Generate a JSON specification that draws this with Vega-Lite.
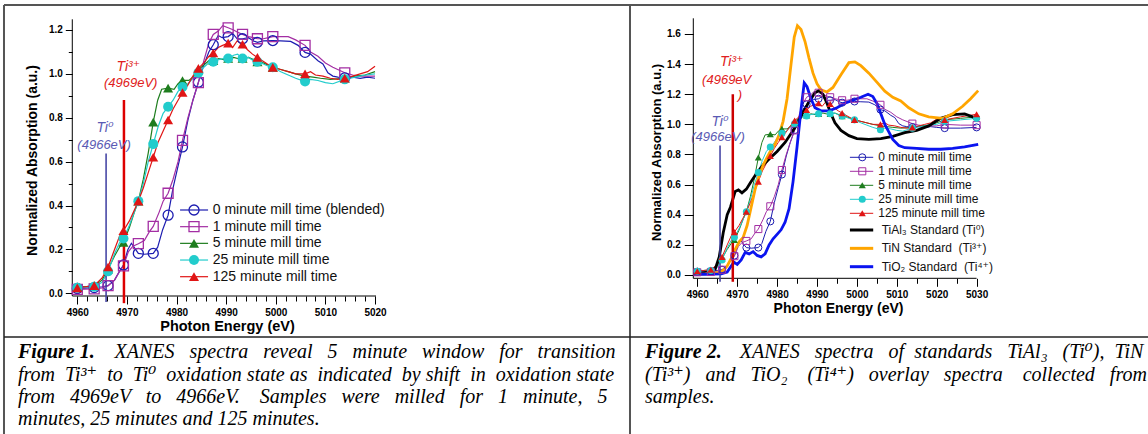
{
"$schema": "https://vega.github.io/schema/vega-lite/v6.json",
"width": 1148, "height": 434, "autosize": "none", "padding": 0, "background": "white",
"config": {"view": {"stroke": null}, "axis": {"domain": false, "grid": false, "tickColor": "black", "tickWidth": 1, "labelFont": "Liberation Sans", "labelFontWeight": "bold", "labelColor": "black", "titleFont": "Liberation Sans", "titleFontWeight": "bold", "titleColor": "black", "labelFlush": false, "labelOverlap": false}},
"datasets": {
"samples": [
{"s":"0 min","E":4959.6,"A":0.022,"m":0},{"s":"0 min","E":4960,"A":0.022,"m":1},{"s":"0 min","E":4961.5,"A":0.024,"m":0},{"s":"0 min","E":4963.4,"A":0.026,"m":1},{"s":"0 min","E":4965,"A":0.03,"m":0},{"s":"0 min","E":4966.2,"A":0.035,"m":1},{"s":"0 min","E":4967.5,"A":0.06,"m":0},{"s":"0 min","E":4968.5,"A":0.1,"m":0},{"s":"0 min","E":4969.3,"A":0.129,"m":1},{"s":"0 min","E":4970.2,"A":0.2,"m":0},{"s":"0 min","E":4970.9,"A":0.228,"m":0},{"s":"0 min","E":4971.6,"A":0.205,"m":0},{"s":"0 min","E":4972.3,"A":0.182,"m":1},{"s":"0 min","E":4973.5,"A":0.178,"m":0},{"s":"0 min","E":4975.3,"A":0.182,"m":1},{"s":"0 min","E":4976.2,"A":0.21,"m":0},{"s":"0 min","E":4977.2,"A":0.29,"m":0},{"s":"0 min","E":4978.3,"A":0.356,"m":1},{"s":"0 min","E":4979.3,"A":0.48,"m":0},{"s":"0 min","E":4980.3,"A":0.58,"m":0},{"s":"0 min","E":4981.2,"A":0.667,"m":1},{"s":"0 min","E":4982.3,"A":0.79,"m":0},{"s":"0 min","E":4983.3,"A":0.88,"m":0},{"s":"0 min","E":4984.4,"A":0.962,"m":1},{"s":"0 min","E":4985.5,"A":1.04,"m":0},{"s":"0 min","E":4986.5,"A":1.1,"m":0},{"s":"0 min","E":4987.4,"A":1.133,"m":1},{"s":"0 min","E":4988.4,"A":1.175,"m":0},{"s":"0 min","E":4989.2,"A":1.165,"m":0},{"s":"0 min","E":4990.4,"A":1.17,"m":1},{"s":"0 min","E":4991.3,"A":1.185,"m":0},{"s":"0 min","E":4992.2,"A":1.16,"m":0},{"s":"0 min","E":4993.3,"A":1.16,"m":1},{"s":"0 min","E":4994.5,"A":1.165,"m":0},{"s":"0 min","E":4995.5,"A":1.15,"m":0},{"s":"0 min","E":4996.3,"A":1.144,"m":1},{"s":"0 min","E":4997.5,"A":1.15,"m":0},{"s":"0 min","E":4999.4,"A":1.152,"m":1},{"s":"0 min","E":5001,"A":1.15,"m":0},{"s":"0 min","E":5003,"A":1.148,"m":0},{"s":"0 min","E":5004.5,"A":1.13,"m":0},{"s":"0 min","E":5005.9,"A":1.098,"m":1},{"s":"0 min","E":5007,"A":1.09,"m":0},{"s":"0 min","E":5008.5,"A":1.06,"m":0},{"s":"0 min","E":5009.5,"A":1.045,"m":0},{"s":"0 min","E":5010.5,"A":1.005,"m":0},{"s":"0 min","E":5011.5,"A":0.99,"m":0},{"s":"0 min","E":5012.5,"A":0.985,"m":0},{"s":"0 min","E":5013.9,"A":0.982,"m":1},{"s":"0 min","E":5015.5,"A":0.985,"m":0},{"s":"0 min","E":5017,"A":0.98,"m":0},{"s":"0 min","E":5018.5,"A":0.985,"m":0},{"s":"0 min","E":5020,"A":0.98,"m":0},{"s":"0 min","E":5022,"A":0.975,"m":1},{"s":"0 min","E":5026,"A":0.975,"m":0},{"s":"0 min","E":5030,"A":0.98,"m":1},
{"s":"1 min","E":4959.6,"A":0.018,"m":0},{"s":"1 min","E":4960,"A":0.018,"m":1},{"s":"1 min","E":4963.4,"A":0.02,"m":1},{"s":"1 min","E":4965,"A":0.025,"m":0},{"s":"1 min","E":4966.2,"A":0.035,"m":1},{"s":"1 min","E":4967.5,"A":0.06,"m":0},{"s":"1 min","E":4968.5,"A":0.1,"m":0},{"s":"1 min","E":4969.3,"A":0.125,"m":1},{"s":"1 min","E":4970.3,"A":0.19,"m":0},{"s":"1 min","E":4971.2,"A":0.215,"m":0},{"s":"1 min","E":4972.3,"A":0.226,"m":1},{"s":"1 min","E":4973.5,"A":0.24,"m":0},{"s":"1 min","E":4974.5,"A":0.28,"m":0},{"s":"1 min","E":4975.3,"A":0.305,"m":1},{"s":"1 min","E":4976.5,"A":0.37,"m":0},{"s":"1 min","E":4977.3,"A":0.42,"m":0},{"s":"1 min","E":4978.3,"A":0.456,"m":1},{"s":"1 min","E":4979.3,"A":0.52,"m":0},{"s":"1 min","E":4980.3,"A":0.6,"m":0},{"s":"1 min","E":4981.2,"A":0.697,"m":1},{"s":"1 min","E":4982.3,"A":0.8,"m":0},{"s":"1 min","E":4983.3,"A":0.88,"m":0},{"s":"1 min","E":4984.4,"A":0.96,"m":1},{"s":"1 min","E":4985.5,"A":1.06,"m":0},{"s":"1 min","E":4986.5,"A":1.14,"m":0},{"s":"1 min","E":4987.4,"A":1.18,"m":1},{"s":"1 min","E":4988.4,"A":1.195,"m":0},{"s":"1 min","E":4989.3,"A":1.22,"m":0},{"s":"1 min","E":4990.4,"A":1.21,"m":1},{"s":"1 min","E":4991.5,"A":1.2,"m":0},{"s":"1 min","E":4992.3,"A":1.19,"m":0},{"s":"1 min","E":4993.3,"A":1.18,"m":1},{"s":"1 min","E":4994.5,"A":1.17,"m":0},{"s":"1 min","E":4995.5,"A":1.165,"m":0},{"s":"1 min","E":4996.3,"A":1.16,"m":1},{"s":"1 min","E":4997.5,"A":1.16,"m":0},{"s":"1 min","E":4998.5,"A":1.165,"m":0},{"s":"1 min","E":4999.4,"A":1.17,"m":1},{"s":"1 min","E":5001,"A":1.17,"m":0},{"s":"1 min","E":5002.5,"A":1.17,"m":0},{"s":"1 min","E":5004,"A":1.155,"m":0},{"s":"1 min","E":5005.9,"A":1.13,"m":1},{"s":"1 min","E":5007,"A":1.1,"m":0},{"s":"1 min","E":5008.5,"A":1.08,"m":0},{"s":"1 min","E":5010,"A":1.05,"m":0},{"s":"1 min","E":5011.5,"A":1.03,"m":0},{"s":"1 min","E":5013.9,"A":1.005,"m":1},{"s":"1 min","E":5015.5,"A":0.995,"m":0},{"s":"1 min","E":5017,"A":0.99,"m":0},{"s":"1 min","E":5020,"A":0.99,"m":0},{"s":"1 min","E":5022,"A":1.0,"m":1},{"s":"1 min","E":5026,"A":0.995,"m":0},{"s":"1 min","E":5030,"A":0.995,"m":1},
{"s":"5 min","E":4959.6,"A":0.03,"m":0},{"s":"5 min","E":4960,"A":0.03,"m":1},{"s":"5 min","E":4961.5,"A":0.03,"m":0},{"s":"5 min","E":4963.4,"A":0.035,"m":1},{"s":"5 min","E":4965,"A":0.06,"m":0},{"s":"5 min","E":4966.2,"A":0.11,"m":1},{"s":"5 min","E":4967.5,"A":0.17,"m":0},{"s":"5 min","E":4968.5,"A":0.21,"m":0},{"s":"5 min","E":4969.3,"A":0.232,"m":1},{"s":"5 min","E":4970.5,"A":0.3,"m":0},{"s":"5 min","E":4971.5,"A":0.37,"m":0},{"s":"5 min","E":4972.3,"A":0.42,"m":1},{"s":"5 min","E":4973.3,"A":0.52,"m":0},{"s":"5 min","E":4974.3,"A":0.64,"m":0},{"s":"5 min","E":4975.3,"A":0.78,"m":1},{"s":"5 min","E":4976.2,"A":0.88,"m":0},{"s":"5 min","E":4977,"A":0.93,"m":0},{"s":"5 min","E":4978.3,"A":0.935,"m":1},{"s":"5 min","E":4979.5,"A":0.93,"m":0},{"s":"5 min","E":4980.3,"A":0.955,"m":0},{"s":"5 min","E":4981.2,"A":0.97,"m":1},{"s":"5 min","E":4982.5,"A":0.97,"m":0},{"s":"5 min","E":4983.5,"A":0.99,"m":0},{"s":"5 min","E":4984.4,"A":1.02,"m":1},{"s":"5 min","E":4985.5,"A":1.04,"m":0},{"s":"5 min","E":4986.5,"A":1.06,"m":0},{"s":"5 min","E":4987.4,"A":1.06,"m":1},{"s":"5 min","E":4988.5,"A":1.07,"m":0},{"s":"5 min","E":4989.5,"A":1.065,"m":0},{"s":"5 min","E":4990.4,"A":1.07,"m":1},{"s":"5 min","E":4991.5,"A":1.075,"m":0},{"s":"5 min","E":4992.3,"A":1.07,"m":0},{"s":"5 min","E":4993.3,"A":1.07,"m":1},{"s":"5 min","E":4994.5,"A":1.075,"m":0},{"s":"5 min","E":4995.5,"A":1.065,"m":0},{"s":"5 min","E":4996.3,"A":1.055,"m":1},{"s":"5 min","E":4997.5,"A":1.05,"m":0},{"s":"5 min","E":4998.5,"A":1.04,"m":0},{"s":"5 min","E":4999.4,"A":1.03,"m":1},{"s":"5 min","E":5001,"A":1.02,"m":0},{"s":"5 min","E":5002.5,"A":1.01,"m":0},{"s":"5 min","E":5004,"A":1.0,"m":0},{"s":"5 min","E":5005.9,"A":0.99,"m":1},{"s":"5 min","E":5007.5,"A":0.985,"m":0},{"s":"5 min","E":5009,"A":0.98,"m":0},{"s":"5 min","E":5011,"A":0.975,"m":0},{"s":"5 min","E":5013.9,"A":0.98,"m":1},{"s":"5 min","E":5016,"A":0.99,"m":0},{"s":"5 min","E":5018,"A":0.995,"m":0},{"s":"5 min","E":5020,"A":1.01,"m":0},{"s":"5 min","E":5022,"A":1.03,"m":1},{"s":"5 min","E":5026,"A":1.04,"m":0},{"s":"5 min","E":5030,"A":1.05,"m":1},
{"s":"25 min","E":4959.6,"A":0.025,"m":0},{"s":"25 min","E":4960,"A":0.025,"m":1},{"s":"25 min","E":4963.4,"A":0.03,"m":1},{"s":"25 min","E":4965,"A":0.05,"m":0},{"s":"25 min","E":4966.2,"A":0.1,"m":1},{"s":"25 min","E":4967.5,"A":0.18,"m":0},{"s":"25 min","E":4968.5,"A":0.23,"m":0},{"s":"25 min","E":4969.3,"A":0.25,"m":1},{"s":"25 min","E":4970.5,"A":0.31,"m":0},{"s":"25 min","E":4971.5,"A":0.37,"m":0},{"s":"25 min","E":4972.3,"A":0.42,"m":1},{"s":"25 min","E":4973.3,"A":0.5,"m":0},{"s":"25 min","E":4974.3,"A":0.6,"m":0},{"s":"25 min","E":4975.3,"A":0.68,"m":1},{"s":"25 min","E":4976.3,"A":0.76,"m":0},{"s":"25 min","E":4977.3,"A":0.82,"m":0},{"s":"25 min","E":4978.3,"A":0.85,"m":1},{"s":"25 min","E":4979.3,"A":0.88,"m":0},{"s":"25 min","E":4980.3,"A":0.92,"m":0},{"s":"25 min","E":4981.2,"A":0.94,"m":1},{"s":"25 min","E":4982.3,"A":0.955,"m":0},{"s":"25 min","E":4983.3,"A":0.98,"m":0},{"s":"25 min","E":4984.4,"A":1.005,"m":1},{"s":"25 min","E":4985.5,"A":1.03,"m":0},{"s":"25 min","E":4986.5,"A":1.05,"m":0},{"s":"25 min","E":4987.4,"A":1.055,"m":1},{"s":"25 min","E":4988.5,"A":1.065,"m":0},{"s":"25 min","E":4989.5,"A":1.07,"m":0},{"s":"25 min","E":4990.4,"A":1.07,"m":1},{"s":"25 min","E":4991.5,"A":1.085,"m":0},{"s":"25 min","E":4992.3,"A":1.09,"m":0},{"s":"25 min","E":4993.3,"A":1.07,"m":1},{"s":"25 min","E":4994.5,"A":1.075,"m":0},{"s":"25 min","E":4995.5,"A":1.06,"m":0},{"s":"25 min","E":4996.3,"A":1.055,"m":1},{"s":"25 min","E":4997.5,"A":1.045,"m":0},{"s":"25 min","E":4998.5,"A":1.035,"m":0},{"s":"25 min","E":4999.4,"A":1.03,"m":1},{"s":"25 min","E":5001,"A":1.01,"m":0},{"s":"25 min","E":5002.5,"A":0.995,"m":0},{"s":"25 min","E":5004,"A":0.98,"m":0},{"s":"25 min","E":5005.9,"A":0.965,"m":1},{"s":"25 min","E":5007,"A":0.975,"m":0},{"s":"25 min","E":5008.5,"A":0.97,"m":0},{"s":"25 min","E":5010,"A":0.96,"m":0},{"s":"25 min","E":5011.5,"A":0.955,"m":0},{"s":"25 min","E":5013.9,"A":0.975,"m":1},{"s":"25 min","E":5016,"A":0.985,"m":0},{"s":"25 min","E":5018,"A":0.995,"m":0},{"s":"25 min","E":5020,"A":1.0,"m":0},{"s":"25 min","E":5022,"A":1.02,"m":1},{"s":"25 min","E":5026,"A":1.03,"m":0},{"s":"25 min","E":5030,"A":1.04,"m":1},
{"s":"125 min","E":4959.6,"A":0.025,"m":0},{"s":"125 min","E":4960,"A":0.025,"m":1},{"s":"125 min","E":4963.4,"A":0.035,"m":1},{"s":"125 min","E":4965,"A":0.07,"m":0},{"s":"125 min","E":4966.2,"A":0.12,"m":1},{"s":"125 min","E":4967.5,"A":0.2,"m":0},{"s":"125 min","E":4968.5,"A":0.26,"m":0},{"s":"125 min","E":4969.3,"A":0.285,"m":1},{"s":"125 min","E":4970.5,"A":0.33,"m":0},{"s":"125 min","E":4971.5,"A":0.38,"m":0},{"s":"125 min","E":4972.3,"A":0.42,"m":1},{"s":"125 min","E":4973.3,"A":0.48,"m":0},{"s":"125 min","E":4974.3,"A":0.55,"m":0},{"s":"125 min","E":4975.3,"A":0.62,"m":1},{"s":"125 min","E":4976.3,"A":0.69,"m":0},{"s":"125 min","E":4977.3,"A":0.74,"m":0},{"s":"125 min","E":4978.3,"A":0.79,"m":1},{"s":"125 min","E":4979.3,"A":0.84,"m":0},{"s":"125 min","E":4980.3,"A":0.88,"m":0},{"s":"125 min","E":4981.2,"A":0.915,"m":1},{"s":"125 min","E":4982.3,"A":0.95,"m":0},{"s":"125 min","E":4983.3,"A":0.99,"m":0},{"s":"125 min","E":4984.4,"A":1.025,"m":1},{"s":"125 min","E":4985.5,"A":1.05,"m":0},{"s":"125 min","E":4986.5,"A":1.08,"m":0},{"s":"125 min","E":4987.4,"A":1.095,"m":1},{"s":"125 min","E":4988.4,"A":1.12,"m":0},{"s":"125 min","E":4989.3,"A":1.13,"m":0},{"s":"125 min","E":4990.4,"A":1.14,"m":1},{"s":"125 min","E":4991.3,"A":1.12,"m":0},{"s":"125 min","E":4992.2,"A":1.15,"m":0},{"s":"125 min","E":4993.3,"A":1.135,"m":1},{"s":"125 min","E":4994.3,"A":1.11,"m":0},{"s":"125 min","E":4995.3,"A":1.09,"m":0},{"s":"125 min","E":4996.3,"A":1.075,"m":1},{"s":"125 min","E":4997.3,"A":1.06,"m":0},{"s":"125 min","E":4998.3,"A":1.045,"m":0},{"s":"125 min","E":4999.4,"A":1.03,"m":1},{"s":"125 min","E":5001,"A":1.02,"m":0},{"s":"125 min","E":5002.5,"A":1.01,"m":0},{"s":"125 min","E":5004,"A":1.0,"m":0},{"s":"125 min","E":5005.9,"A":1.0,"m":1},{"s":"125 min","E":5007,"A":1.01,"m":0},{"s":"125 min","E":5008,"A":0.995,"m":0},{"s":"125 min","E":5009.5,"A":0.99,"m":0},{"s":"125 min","E":5011,"A":0.98,"m":0},{"s":"125 min","E":5012.5,"A":0.975,"m":0},{"s":"125 min","E":5013.9,"A":0.98,"m":1},{"s":"125 min","E":5015.5,"A":0.99,"m":0},{"s":"125 min","E":5017,"A":1.0,"m":0},{"s":"125 min","E":5018.5,"A":1.01,"m":0},{"s":"125 min","E":5020,"A":1.035,"m":0},{"s":"125 min","E":5022,"A":1.03,"m":1},{"s":"125 min","E":5026,"A":1.05,"m":0},{"s":"125 min","E":5030,"A":1.067,"m":1}
],
"stds": [
{"s":"TiAl3","E":4959,"A":0.01},{"s":"TiAl3","E":4961,"A":0.012},{"s":"TiAl3","E":4963,"A":0.02},{"s":"TiAl3","E":4964.5,"A":0.04},{"s":"TiAl3","E":4965.5,"A":0.12},{"s":"TiAl3","E":4966.5,"A":0.28},{"s":"TiAl3","E":4967.5,"A":0.4},{"s":"TiAl3","E":4968.3,"A":0.45},{"s":"TiAl3","E":4969.5,"A":0.555},{"s":"TiAl3","E":4970.3,"A":0.565},{"s":"TiAl3","E":4971.2,"A":0.545},{"s":"TiAl3","E":4972.3,"A":0.57},{"s":"TiAl3","E":4973.5,"A":0.62},{"s":"TiAl3","E":4975,"A":0.68},{"s":"TiAl3","E":4976.5,"A":0.73},{"s":"TiAl3","E":4978,"A":0.77},{"s":"TiAl3","E":4980,"A":0.82},{"s":"TiAl3","E":4982,"A":0.88},{"s":"TiAl3","E":4983.5,"A":0.94},{"s":"TiAl3","E":4985,"A":1.0},{"s":"TiAl3","E":4986.5,"A":1.08},{"s":"TiAl3","E":4988,"A":1.15},{"s":"TiAl3","E":4989.5,"A":1.21},{"s":"TiAl3","E":4990.5,"A":1.225},{"s":"TiAl3","E":4991.5,"A":1.2},{"s":"TiAl3","E":4992.5,"A":1.14},{"s":"TiAl3","E":4993.5,"A":1.07},{"s":"TiAl3","E":4994.5,"A":1.01},{"s":"TiAl3","E":4996,"A":0.96},{"s":"TiAl3","E":4998,"A":0.925},{"s":"TiAl3","E":5000,"A":0.905},{"s":"TiAl3","E":5003,"A":0.9},{"s":"TiAl3","E":5006,"A":0.905},{"s":"TiAl3","E":5009,"A":0.92},{"s":"TiAl3","E":5012,"A":0.945},{"s":"TiAl3","E":5015,"A":0.96},{"s":"TiAl3","E":5018,"A":0.99},{"s":"TiAl3","E":5021,"A":1.04},{"s":"TiAl3","E":5024,"A":1.065},{"s":"TiAl3","E":5027,"A":1.07},{"s":"TiAl3","E":5030,"A":1.04},
{"s":"TiN","E":4959,"A":0.005},{"s":"TiN","E":4962,"A":0.008},{"s":"TiN","E":4965,"A":0.015},{"s":"TiN","E":4966.5,"A":0.03},{"s":"TiN","E":4967.5,"A":0.06},{"s":"TiN","E":4968.5,"A":0.11},{"s":"TiN","E":4969.5,"A":0.17},{"s":"TiN","E":4970.5,"A":0.22},{"s":"TiN","E":4971.5,"A":0.25},{"s":"TiN","E":4972.5,"A":0.33},{"s":"TiN","E":4973.5,"A":0.45},{"s":"TiN","E":4974.5,"A":0.57},{"s":"TiN","E":4975.5,"A":0.66},{"s":"TiN","E":4976.5,"A":0.73},{"s":"TiN","E":4977.5,"A":0.78},{"s":"TiN","E":4978.5,"A":0.83},{"s":"TiN","E":4979.5,"A":0.87},{"s":"TiN","E":4980.5,"A":0.93},{"s":"TiN","E":4981.5,"A":1.02},{"s":"TiN","E":4982.5,"A":1.17},{"s":"TiN","E":4983.5,"A":1.4},{"s":"TiN","E":4984.3,"A":1.58},{"s":"TiN","E":4985.1,"A":1.655},{"s":"TiN","E":4986,"A":1.63},{"s":"TiN","E":4987,"A":1.55},{"s":"TiN","E":4988,"A":1.44},{"s":"TiN","E":4989,"A":1.34},{"s":"TiN","E":4990,"A":1.27},{"s":"TiN","E":4991,"A":1.23},{"s":"TiN","E":4992.5,"A":1.215},{"s":"TiN","E":4994,"A":1.245},{"s":"TiN","E":4996,"A":1.33},{"s":"TiN","E":4998,"A":1.41},{"s":"TiN","E":4999.5,"A":1.415},{"s":"TiN","E":5001,"A":1.39},{"s":"TiN","E":5003,"A":1.34},{"s":"TiN","E":5005,"A":1.28},{"s":"TiN","E":5007,"A":1.22},{"s":"TiN","E":5009,"A":1.18},{"s":"TiN","E":5011,"A":1.155},{"s":"TiN","E":5013,"A":1.11},{"s":"TiN","E":5015.5,"A":1.07},{"s":"TiN","E":5018,"A":1.05},{"s":"TiN","E":5021.5,"A":1.04},{"s":"TiN","E":5024,"A":1.07},{"s":"TiN","E":5026.5,"A":1.12},{"s":"TiN","E":5028.5,"A":1.17},{"s":"TiN","E":5030.4,"A":1.224},
{"s":"TiO2","E":4959,"A":0.005},{"s":"TiO2","E":4962,"A":0.005},{"s":"TiO2","E":4966,"A":0.008},{"s":"TiO2","E":4967.5,"A":0.02},{"s":"TiO2","E":4968.5,"A":0.06},{"s":"TiO2","E":4969.2,"A":0.085},{"s":"TiO2","E":4970,"A":0.07},{"s":"TiO2","E":4971,"A":0.1},{"s":"TiO2","E":4972,"A":0.15},{"s":"TiO2","E":4973,"A":0.14},{"s":"TiO2","E":4974,"A":0.155},{"s":"TiO2","E":4975,"A":0.13},{"s":"TiO2","E":4976,"A":0.12},{"s":"TiO2","E":4977,"A":0.14},{"s":"TiO2","E":4978,"A":0.2},{"s":"TiO2","E":4979,"A":0.24},{"s":"TiO2","E":4980,"A":0.27},{"s":"TiO2","E":4981,"A":0.3},{"s":"TiO2","E":4982,"A":0.35},{"s":"TiO2","E":4983,"A":0.44},{"s":"TiO2","E":4984,"A":0.62},{"s":"TiO2","E":4985,"A":0.85},{"s":"TiO2","E":4986,"A":1.1},{"s":"TiO2","E":4986.8,"A":1.275},{"s":"TiO2","E":4987.5,"A":1.25},{"s":"TiO2","E":4988.5,"A":1.17},{"s":"TiO2","E":4989.5,"A":1.11},{"s":"TiO2","E":4991,"A":1.09},{"s":"TiO2","E":4993,"A":1.09},{"s":"TiO2","E":4995,"A":1.11},{"s":"TiO2","E":4997,"A":1.14},{"s":"TiO2","E":4999,"A":1.16},{"s":"TiO2","E":5001,"A":1.18},{"s":"TiO2","E":5002.8,"A":1.2},{"s":"TiO2","E":5004,"A":1.185},{"s":"TiO2","E":5005,"A":1.14},{"s":"TiO2","E":5006,"A":1.07},{"s":"TiO2","E":5007,"A":1.0},{"s":"TiO2","E":5008,"A":0.95},{"s":"TiO2","E":5009,"A":0.9},{"s":"TiO2","E":5010.5,"A":0.86},{"s":"TiO2","E":5012,"A":0.845},{"s":"TiO2","E":5015,"A":0.84},{"s":"TiO2","E":5018,"A":0.835},{"s":"TiO2","E":5021,"A":0.835},{"s":"TiO2","E":5024,"A":0.84},{"s":"TiO2","E":5027,"A":0.85},{"s":"TiO2","E":5030.4,"A":0.868}
],
"leg1": [{"s":"0 min","label":"\u00a0\u00a00 minute mill time (blended)"},{"s":"1 min","label":"\u00a0\u00a01 minute mill time"},{"s":"5 min","label":"\u00a0\u00a05 minute mill time"},{"s":"25 min","label":"\u00a025 minute mill time"},{"s":"125 min","label":"125 minute mill time"}],
"leg2": [{"s":"0 min","label":"\u00a0\u00a00 minute mill time"},{"s":"1 min","label":"\u00a0\u00a01 minute mill time"},{"s":"5 min","label":"\u00a0\u00a05 minute mill time"},{"s":"25 min","label":"\u00a025 minute mill time"},{"s":"125 min","label":"125 minute mill time"}],
"leg2s": [{"s":"TiAl3","label":"TiAl\u2083 Standard (Ti\u2070)"},{"s":"TiN","label":"TiN Standard\u00a0 (Ti\u00b3\u207a)"},{"s":"TiO2","label":"TiO\u2082 Standard\u00a0 (Ti\u2074\u207a)"}],
"one": [{}]
},
"resolve": {"scale": {"x": "independent", "y": "independent"}, "axis": {"x": "independent", "y": "independent"}},
"layer": [
{"data": {"name": "samples"}, "transform": [{"filter": "datum.E <= 5020"}], "mark": {"type": "line", "strokeWidth": 1.2},
 "encoding": {"x": {"field": "E", "type": "quantitative", "scale": {"domain": [4944.42, 5175.78], "nice": false, "zero": false}, "axis": {"orient": "bottom", "offset": -138, "values": [4960,4970,4980,4990,5000,5010,5020], "format": "d", "tickSize": 8, "labelPadding": 3, "labelFontSize": 10, "title": "Photon Energy (eV)", "titleFontSize": 14.5, "titleX": 227, "titleY": 34, "titleAlign": "center", "titleBaseline": "alphabetic", "titleAngle": 0}},
  "y": {"field": "A", "type": "quantitative", "scale": {"domain": [-0.6412, 1.3367], "nice": false, "zero": false}, "axis": {"orient": "left", "offset": -72.3, "values": [0,0.2,0.4,0.6,0.8,1,1.2], "format": ".1f", "tickSize": 7, "labelPadding": 3, "labelFontSize": 10, "title": "Normalized Absorption (a.u.)", "titleFontSize": 14, "titleX": -40.3, "titleY": 160, "titleAngle": -90, "titleAlign": "center", "titleBaseline": "middle"}},
  "color": {"field": "s", "type": "nominal", "scale": {"domain": ["0 min","1 min","5 min","25 min","125 min","TiAl3","TiN","TiO2"], "range": ["#1c1cb0","#a32ea3","#1e7d1e","#22cccc","#e01515","#000000","#ffa500","#0a14f0"]}, "legend": null}}},
{"data": {"name": "one"}, "mark": {"type": "rule", "color": "black", "strokeWidth": 1},
 "encoding": {"x": {"datum": 4959.0, "type": "quantitative", "scale": {"domain": [4944.42, 5175.78], "nice": false, "zero": false}, "axis": {"orient": "bottom", "offset": -138, "values": [4962,4964,4966,4968,4972,4974,4976,4978,4982,4984,4986,4988,4992,4994,4996,4998,5002,5004,5006,5008,5012,5014,5016,5018], "tickSize": 5, "labels": false, "title": null}}, "x2": {"datum": 5020.2},
  "y": {"datum": -0.0123, "type": "quantitative", "scale": {"domain": [-0.6412, 1.3367], "nice": false, "zero": false}, "axis": null}}},
{"data": {"name": "one"}, "mark": {"type": "rule", "color": "black", "strokeWidth": 1},
 "encoding": {"x": {"datum": 4958.99, "type": "quantitative", "scale": {"domain": [4944.42, 5175.78], "nice": false, "zero": false}, "axis": null},
  "y": {"datum": -0.0123, "type": "quantitative", "scale": {"domain": [-0.6412, 1.3367], "nice": false, "zero": false}, "axis": {"orient": "left", "offset": -72.3, "values": [0.1,0.3,0.5,0.7,0.9,1.1], "tickSize": 4, "labels": false, "title": null}}, "y2": {"datum": 1.2487}}},
{"data": {"name": "one"}, "mark": {"type": "rule", "color": "#3c3ca0", "strokeWidth": 1.5},
 "encoding": {"x": {"datum": 4965.8, "type": "quantitative", "scale": {"domain": [4944.42, 5175.78], "nice": false, "zero": false}, "axis": null},
  "y": {"datum": 0.637, "type": "quantitative", "scale": {"domain": [-0.6412, 1.3367], "nice": false, "zero": false}, "axis": null}, "y2": {"datum": -0.04}}},
{"data": {"name": "one"}, "mark": {"type": "rule", "color": "#dd0000", "strokeWidth": 2.5},
 "encoding": {"x": {"datum": 4969.4, "type": "quantitative", "scale": {"domain": [4944.42, 5175.78], "nice": false, "zero": false}, "axis": null},
  "y": {"datum": 0.881, "type": "quantitative", "scale": {"domain": [-0.6412, 1.3367], "nice": false, "zero": false}, "axis": null}, "y2": {"datum": -0.045}}},
{"data": {"name": "samples"}, "transform": [{"filter": "datum.E <= 5020 && datum.m == 1 && (datum.s == '0 min' || datum.s == '1 min')"}], "mark": {"type": "point", "filled": false, "size": 100, "strokeWidth": 1.3, "opacity": 1},
 "encoding": {"x": {"field": "E", "type": "quantitative", "scale": {"domain": [4944.42, 5175.78], "nice": false, "zero": false}, "axis": null},
  "y": {"field": "A", "type": "quantitative", "scale": {"domain": [-0.6412, 1.3367], "nice": false, "zero": false}, "axis": null},
  "color": {"field": "s", "type": "nominal", "legend": null},
  "shape": {"field": "s", "type": "nominal", "scale": {"domain": ["0 min","1 min","5 min","25 min","125 min"], "range": ["circle","square","triangle-up","circle","triangle-up"]}, "legend": null}}},
{"data": {"name": "samples"}, "transform": [{"filter": "datum.E <= 5020 && datum.m == 1 && datum.s != '0 min' && datum.s != '1 min'"}], "mark": {"type": "point", "filled": true, "size": 100, "opacity": 1},
 "encoding": {"x": {"field": "E", "type": "quantitative", "scale": {"domain": [4944.42, 5175.78], "nice": false, "zero": false}, "axis": null},
  "y": {"field": "A", "type": "quantitative", "scale": {"domain": [-0.6412, 1.3367], "nice": false, "zero": false}, "axis": null},
  "color": {"field": "s", "type": "nominal", "legend": null},
  "shape": {"field": "s", "type": "nominal", "legend": null}}},
{"data": {"name": "one"}, "mark": {"type": "text", "text": "Ti\u2070", "font": "Liberation Sans, DejaVu Sans", "fontStyle": "italic", "fontSize": 14, "color": "#5a5ab4", "align": "center", "baseline": "middle"},
 "encoding": {"x": {"datum": 4965.58, "type": "quantitative", "scale": {"domain": [4944.42, 5175.78], "nice": false, "zero": false}, "axis": null},
  "y": {"datum": 0.752, "type": "quantitative", "scale": {"domain": [-0.6412, 1.3367], "nice": false, "zero": false}, "axis": null}}},
{"data": {"name": "one"}, "mark": {"type": "text", "text": "(4966eV)", "font": "Liberation Sans", "fontStyle": "italic", "fontSize": 13, "color": "#5a5ab4", "align": "center", "baseline": "middle"},
 "encoding": {"x": {"datum": 4965.4, "type": "quantitative", "scale": {"domain": [4944.42, 5175.78], "nice": false, "zero": false}, "axis": null},
  "y": {"datum": 0.676, "type": "quantitative", "scale": {"domain": [-0.6412, 1.3367], "nice": false, "zero": false}, "axis": null}}},
{"data": {"name": "one"}, "mark": {"type": "text", "text": "Ti\u00b3\u207a", "font": "Liberation Sans, DejaVu Sans", "fontStyle": "italic", "fontSize": 14, "color": "#e02020", "align": "center", "baseline": "middle"},
 "encoding": {"x": {"datum": 4970.28, "type": "quantitative", "scale": {"domain": [4944.42, 5175.78], "nice": false, "zero": false}, "axis": null},
  "y": {"datum": 1.033, "type": "quantitative", "scale": {"domain": [-0.6412, 1.3367], "nice": false, "zero": false}, "axis": null}}},
{"data": {"name": "one"}, "mark": {"type": "text", "text": "(4969eV)", "font": "Liberation Sans", "fontStyle": "italic", "fontSize": 13, "color": "#e02020", "align": "center", "baseline": "middle"},
 "encoding": {"x": {"datum": 4970.76, "type": "quantitative", "scale": {"domain": [4944.42, 5175.78], "nice": false, "zero": false}, "axis": null},
  "y": {"datum": 0.957, "type": "quantitative", "scale": {"domain": [-0.6412, 1.3367], "nice": false, "zero": false}, "axis": null}}},
{"data": {"name": "leg1"}, "mark": {"type": "rule", "strokeWidth": 1.2},
 "encoding": {"x": {"datum": 4980.71, "type": "quantitative", "scale": {"domain": [4944.42, 5175.78], "nice": false, "zero": false}, "axis": null}, "x2": {"datum": 4986.35},
  "y": {"field": "s", "type": "nominal", "scale": {"type": "point", "domain": ["0 min","1 min","5 min","25 min","125 min"], "range": [210, 276.7], "padding": 0}, "axis": null},
  "color": {"field": "s", "type": "nominal", "legend": null}}},
{"data": {"name": "leg1"}, "transform": [{"filter": "datum.s == '0 min' || datum.s == '1 min'"}], "mark": {"type": "point", "filled": false, "size": 100, "strokeWidth": 1.3, "opacity": 1},
 "encoding": {"x": {"datum": 4983.52, "type": "quantitative", "scale": {"domain": [4944.42, 5175.78], "nice": false, "zero": false}, "axis": null},
  "y": {"field": "s", "type": "nominal", "scale": {"type": "point", "domain": ["0 min","1 min","5 min","25 min","125 min"], "range": [210, 276.7], "padding": 0}, "axis": null},
  "color": {"field": "s", "type": "nominal", "legend": null}, "shape": {"field": "s", "type": "nominal", "legend": null}}},
{"data": {"name": "leg1"}, "transform": [{"filter": "datum.s != '0 min' && datum.s != '1 min'"}], "mark": {"type": "point", "filled": true, "size": 100, "opacity": 1},
 "encoding": {"x": {"datum": 4983.52, "type": "quantitative", "scale": {"domain": [4944.42, 5175.78], "nice": false, "zero": false}, "axis": null},
  "y": {"field": "s", "type": "nominal", "scale": {"type": "point", "domain": ["0 min","1 min","5 min","25 min","125 min"], "range": [210, 276.7], "padding": 0}, "axis": null},
  "color": {"field": "s", "type": "nominal", "legend": null}, "shape": {"field": "s", "type": "nominal", "legend": null}}},
{"data": {"name": "leg1"}, "mark": {"type": "text", "font": "Liberation Sans", "fontSize": 14, "color": "#111111", "align": "left", "baseline": "middle"},
 "encoding": {"x": {"datum": 4987.29, "type": "quantitative", "scale": {"domain": [4944.42, 5175.78], "nice": false, "zero": false}, "axis": null},
  "y": {"field": "s", "type": "nominal", "scale": {"type": "point", "domain": ["0 min","1 min","5 min","25 min","125 min"], "range": [210, 276.7], "padding": 0}, "axis": null},
  "text": {"field": "label"}}},

{"data": {"name": "samples"}, "mark": {"type": "line", "strokeWidth": 1},
 "encoding": {"x": {"field": "E", "type": "quantitative", "scale": {"domain": [4785.24, 5072.96], "nice": false, "zero": false}, "axis": {"orient": "bottom", "offset": -155.7, "values": [4960,4970,4980,4990,5000,5010,5020,5030], "format": "d", "tickSize": 8, "labelPadding": 3, "labelFontSize": 10, "title": "Photon Energy (eV)", "titleFontSize": 14, "titleX": 838, "titleY": 34, "titleAlign": "center", "titleBaseline": "alphabetic", "titleAngle": 0}},
  "y": {"field": "A", "type": "quantitative", "scale": {"domain": [-1.0556, 1.8257], "nice": false, "zero": false}, "axis": {"orient": "left", "offset": -693.3, "values": [0,0.2,0.4,0.6,0.8,1,1.2,1.4,1.6], "format": ".1f", "tickSize": 9, "labelPadding": 4, "labelFontSize": 10, "title": "Normalized Absorption (a.u.)", "titleFontSize": 13, "titleX": -37.3, "titleY": 152, "titleAngle": -90, "titleAlign": "center", "titleBaseline": "middle"}},
  "color": {"field": "s", "type": "nominal", "legend": null}}},
{"data": {"name": "stds"}, "mark": {"type": "line", "strokeWidth": 2.8},
 "encoding": {"x": {"field": "E", "type": "quantitative", "scale": {"domain": [4785.24, 5072.96], "nice": false, "zero": false}, "axis": null},
  "y": {"field": "A", "type": "quantitative", "scale": {"domain": [-1.0556, 1.8257], "nice": false, "zero": false}, "axis": null},
  "color": {"field": "s", "type": "nominal", "legend": null}}},
{"data": {"name": "one"}, "mark": {"type": "rule", "color": "black", "strokeWidth": 1},
 "encoding": {"x": {"datum": 4959.0, "type": "quantitative", "scale": {"domain": [4785.24, 5072.96], "nice": false, "zero": false}, "axis": {"orient": "bottom", "offset": -155.7, "values": [4965,4975,4985,4995,5005,5015,5025], "tickSize": 5, "labels": false, "title": null}}, "x2": {"datum": 5030.0},
  "y": {"datum": -0.0219, "type": "quantitative", "scale": {"domain": [-1.0556, 1.8257], "nice": false, "zero": false}, "axis": null}}},
{"data": {"name": "one"}, "mark": {"type": "rule", "color": "black", "strokeWidth": 1},
 "encoding": {"x": {"datum": 4959.0, "type": "quantitative", "scale": {"domain": [4785.24, 5072.96], "nice": false, "zero": false}, "axis": null},
  "y": {"datum": -0.0219, "type": "quantitative", "scale": {"domain": [-1.0556, 1.8257], "nice": false, "zero": false}, "axis": null}, "y2": {"datum": 1.7042}}},
{"data": {"name": "one"}, "mark": {"type": "rule", "color": "#3c3ca0", "strokeWidth": 1.5},
 "encoding": {"x": {"datum": 4965.7, "type": "quantitative", "scale": {"domain": [4785.24, 5072.96], "nice": false, "zero": false}, "axis": null},
  "y": {"datum": 0.86, "type": "quantitative", "scale": {"domain": [-1.0556, 1.8257], "nice": false, "zero": false}, "axis": null}, "y2": {"datum": -0.045}}},
{"data": {"name": "one"}, "mark": {"type": "rule", "color": "#cc0000", "strokeWidth": 2.5},
 "encoding": {"x": {"datum": 4968.9, "type": "quantitative", "scale": {"domain": [4785.24, 5072.96], "nice": false, "zero": false}, "axis": null},
  "y": {"datum": 1.2, "type": "quantitative", "scale": {"domain": [-1.0556, 1.8257], "nice": false, "zero": false}, "axis": null}, "y2": {"datum": -0.045}}},
{"data": {"name": "samples"}, "transform": [{"filter": "datum.m == 1 && (datum.s == '0 min' || datum.s == '1 min')"}], "mark": {"type": "point", "filled": false, "size": 50, "strokeWidth": 1, "opacity": 1},
 "encoding": {"x": {"field": "E", "type": "quantitative", "scale": {"domain": [4785.24, 5072.96], "nice": false, "zero": false}, "axis": null},
  "y": {"field": "A", "type": "quantitative", "scale": {"domain": [-1.0556, 1.8257], "nice": false, "zero": false}, "axis": null},
  "color": {"field": "s", "type": "nominal", "legend": null}, "shape": {"field": "s", "type": "nominal", "legend": null}}},
{"data": {"name": "samples"}, "transform": [{"filter": "datum.m == 1 && datum.s != '0 min' && datum.s != '1 min'"}], "mark": {"type": "point", "filled": true, "size": 50, "opacity": 1},
 "encoding": {"x": {"field": "E", "type": "quantitative", "scale": {"domain": [4785.24, 5072.96], "nice": false, "zero": false}, "axis": null},
  "y": {"field": "A", "type": "quantitative", "scale": {"domain": [-1.0556, 1.8257], "nice": false, "zero": false}, "axis": null},
  "color": {"field": "s", "type": "nominal", "legend": null}, "shape": {"field": "s", "type": "nominal", "legend": null}}},
{"data": {"name": "one"}, "mark": {"type": "text", "text": "Ti\u00b3\u207a", "font": "Liberation Sans, DejaVu Sans", "fontStyle": "italic", "fontSize": 14, "color": "#e02020", "align": "center", "baseline": "middle"},
 "encoding": {"x": {"datum": 4968.62, "type": "quantitative", "scale": {"domain": [4785.24, 5072.96], "nice": false, "zero": false}, "axis": null},
  "y": {"datum": 1.416, "type": "quantitative", "scale": {"domain": [-1.0556, 1.8257], "nice": false, "zero": false}, "axis": null}}},
{"data": {"name": "one"}, "mark": {"type": "text", "text": "(4969eV", "font": "Liberation Sans", "fontStyle": "italic", "fontSize": 13, "color": "#e02020", "align": "center", "baseline": "middle"},
 "encoding": {"x": {"datum": 4967.37, "type": "quantitative", "scale": {"domain": [4785.24, 5072.96], "nice": false, "zero": false}, "axis": null},
  "y": {"datum": 1.295, "type": "quantitative", "scale": {"domain": [-1.0556, 1.8257], "nice": false, "zero": false}, "axis": null}}},
{"data": {"name": "one"}, "mark": {"type": "text", "text": ")", "font": "Liberation Sans", "fontStyle": "italic", "fontSize": 13, "color": "#e02020", "align": "center", "baseline": "middle"},
 "encoding": {"x": {"datum": 4970.7, "type": "quantitative", "scale": {"domain": [4785.24, 5072.96], "nice": false, "zero": false}, "axis": null},
  "y": {"datum": 1.195, "type": "quantitative", "scale": {"domain": [-1.0556, 1.8257], "nice": false, "zero": false}, "axis": null}}},
{"data": {"name": "one"}, "mark": {"type": "text", "text": "Ti\u2070", "font": "Liberation Sans, DejaVu Sans", "fontStyle": "italic", "fontSize": 14, "color": "#5a5ab4", "align": "center", "baseline": "middle"},
 "encoding": {"x": {"datum": 4965.69, "type": "quantitative", "scale": {"domain": [4785.24, 5072.96], "nice": false, "zero": false}, "axis": null},
  "y": {"datum": 1.018, "type": "quantitative", "scale": {"domain": [-1.0556, 1.8257], "nice": false, "zero": false}, "axis": null}}},
{"data": {"name": "one"}, "mark": {"type": "text", "text": "(4966eV)", "font": "Liberation Sans", "fontStyle": "italic", "fontSize": 13, "color": "#5a5ab4", "align": "center", "baseline": "middle"},
 "encoding": {"x": {"datum": 4965.19, "type": "quantitative", "scale": {"domain": [4785.24, 5072.96], "nice": false, "zero": false}, "axis": null},
  "y": {"datum": 0.918, "type": "quantitative", "scale": {"domain": [-1.0556, 1.8257], "nice": false, "zero": false}, "axis": null}}},
{"data": {"name": "leg2"}, "mark": {"type": "rule", "strokeWidth": 1},
 "encoding": {"x": {"datum": 4998.25, "type": "quantitative", "scale": {"domain": [4785.24, 5072.96], "nice": false, "zero": false}, "axis": null}, "x2": {"datum": 5004.09},
  "y": {"field": "s", "type": "nominal", "scale": {"type": "point", "domain": ["0 min","1 min","5 min","25 min","125 min"], "range": [157.3, 213.3], "padding": 0}, "axis": null},
  "color": {"field": "s", "type": "nominal", "legend": null}}},
{"data": {"name": "leg2"}, "transform": [{"filter": "datum.s == '0 min' || datum.s == '1 min'"}], "mark": {"type": "point", "filled": false, "size": 50, "strokeWidth": 1, "opacity": 1},
 "encoding": {"x": {"datum": 5001.35, "type": "quantitative", "scale": {"domain": [4785.24, 5072.96], "nice": false, "zero": false}, "axis": null},
  "y": {"field": "s", "type": "nominal", "scale": {"type": "point", "domain": ["0 min","1 min","5 min","25 min","125 min"], "range": [157.3, 213.3], "padding": 0}, "axis": null},
  "color": {"field": "s", "type": "nominal", "legend": null}, "shape": {"field": "s", "type": "nominal", "legend": null}}},
{"data": {"name": "leg2"}, "transform": [{"filter": "datum.s != '0 min' && datum.s != '1 min'"}], "mark": {"type": "point", "filled": true, "size": 50, "opacity": 1},
 "encoding": {"x": {"datum": 5001.35, "type": "quantitative", "scale": {"domain": [4785.24, 5072.96], "nice": false, "zero": false}, "axis": null},
  "y": {"field": "s", "type": "nominal", "scale": {"type": "point", "domain": ["0 min","1 min","5 min","25 min","125 min"], "range": [157.3, 213.3], "padding": 0}, "axis": null},
  "color": {"field": "s", "type": "nominal", "legend": null}, "shape": {"field": "s", "type": "nominal", "legend": null}}},
{"data": {"name": "leg2"}, "mark": {"type": "text", "font": "Liberation Sans", "fontSize": 12, "color": "#111111", "align": "left", "baseline": "middle"},
 "encoding": {"x": {"datum": 5005.36, "type": "quantitative", "scale": {"domain": [4785.24, 5072.96], "nice": false, "zero": false}, "axis": null},
  "y": {"field": "s", "type": "nominal", "scale": {"type": "point", "domain": ["0 min","1 min","5 min","25 min","125 min"], "range": [157.3, 213.3], "padding": 0}, "axis": null},
  "text": {"field": "label"}}},
{"data": {"name": "leg2s"}, "mark": {"type": "rule", "strokeWidth": 3},
 "encoding": {"x": {"datum": 4998.25, "type": "quantitative", "scale": {"domain": [4785.24, 5072.96], "nice": false, "zero": false}, "axis": null}, "x2": {"datum": 5004.09},
  "y": {"field": "s", "type": "nominal", "scale": {"type": "point", "domain": ["TiAl3","TiN","TiO2"], "range": [230, 266.7], "padding": 0}, "axis": null},
  "color": {"field": "s", "type": "nominal", "legend": null}}},
{"data": {"name": "leg2s"}, "mark": {"type": "text", "font": "Liberation Sans, DejaVu Sans", "fontSize": 12, "color": "#111111", "align": "left", "baseline": "middle"},
 "encoding": {"x": {"datum": 5006.2, "type": "quantitative", "scale": {"domain": [4785.24, 5072.96], "nice": false, "zero": false}, "axis": null},
  "y": {"field": "s", "type": "nominal", "scale": {"type": "point", "domain": ["TiAl3","TiN","TiO2"], "range": [230, 266.7], "padding": 0}, "axis": null},
  "text": {"field": "label"}}},

{"data": {"name": "one"}, "mark": {"type": "rule", "color": "#555555", "strokeWidth": 2},
 "encoding": {"x": {"datum": 0.00348, "type": "quantitative", "scale": {"domain": [0, 1], "nice": false, "zero": false}, "axis": null}, "x2": {"datum": 1},
  "y": {"datum": 0.01152, "type": "quantitative", "scale": {"domain": [0, 1], "nice": false, "zero": false, "reverse": true}, "axis": null}}},
{"data": {"name": "one"}, "mark": {"type": "rule", "color": "#555555", "strokeWidth": 2},
 "encoding": {"x": {"datum": 0.00348, "type": "quantitative", "scale": {"domain": [0, 1], "nice": false, "zero": false}, "axis": null},
  "y": {"datum": 0.01152, "type": "quantitative", "scale": {"domain": [0, 1], "nice": false, "zero": false, "reverse": true}, "axis": null}, "y2": {"datum": 1}}},
{"data": {"name": "one"}, "mark": {"type": "rule", "color": "#555555", "strokeWidth": 2},
 "encoding": {"x": {"datum": 0.54878, "type": "quantitative", "scale": {"domain": [0, 1], "nice": false, "zero": false}, "axis": null},
  "y": {"datum": 0.01152, "type": "quantitative", "scale": {"domain": [0, 1], "nice": false, "zero": false, "reverse": true}, "axis": null}, "y2": {"datum": 1}}},
{"data": {"name": "one"}, "mark": {"type": "rule", "color": "#222222", "strokeWidth": 1.5},
 "encoding": {"x": {"datum": 0.00348, "type": "quantitative", "scale": {"domain": [0, 1], "nice": false, "zero": false}, "axis": null}, "x2": {"datum": 1},
  "y": {"datum": 0.7765, "type": "quantitative", "scale": {"domain": [0, 1], "nice": false, "zero": false, "reverse": true}, "axis": null}}},
{"data": {"name": "one"}, "mark": {"type": "text", "text": "Figure 1.", "font": "Liberation Serif", "fontStyle": "italic", "fontWeight": "bold", "fontSize": 20, "color": "black", "align": "left", "baseline": "alphabetic"},
 "encoding": {"x": {"datum": 0.01568, "type": "quantitative", "scale": {"domain": [0, 1], "nice": false, "zero": false}, "axis": null},
  "y": {"datum": 0.82488, "type": "quantitative", "scale": {"domain": [0, 1], "nice": false, "zero": false, "reverse": true}, "axis": null}}},
{"data": {"name": "one"}, "mark": {"type": "text", "text": "XANES \u00a0\u00a0spectra \u00a0\u00a0reveal \u00a0\u00a05 \u00a0\u00a0minute \u00a0\u00a0window \u00a0\u00a0for \u00a0\u00a0transition", "font": "Liberation Serif, DejaVu Serif", "fontStyle": "italic", "fontSize": 20, "color": "black", "align": "left", "baseline": "alphabetic"},
 "encoding": {"x": {"datum": 0.09974, "type": "quantitative", "scale": {"domain": [0, 1], "nice": false, "zero": false}, "axis": null},
  "y": {"datum": 0.82488, "type": "quantitative", "scale": {"domain": [0, 1], "nice": false, "zero": false, "reverse": true}, "axis": null}}},
{"data": {"name": "one"}, "mark": {"type": "text", "text": "from \u00a0Ti\u00b3\u207a \u00a0to \u00a0Ti\u2070 \u00a0oxidation state as \u00a0indicated \u00a0by shift \u00a0in \u00a0oxidation state", "font": "Liberation Serif, DejaVu Serif", "fontStyle": "italic", "fontSize": 20, "color": "black", "align": "left", "baseline": "alphabetic"},
 "encoding": {"x": {"datum": 0.01568, "type": "quantitative", "scale": {"domain": [0, 1], "nice": false, "zero": false}, "axis": null},
  "y": {"datum": 0.87673, "type": "quantitative", "scale": {"domain": [0, 1], "nice": false, "zero": false, "reverse": true}, "axis": null}}},
{"data": {"name": "one"}, "mark": {"type": "text", "text": "from \u00a0\u00a04969eV \u00a0\u00a0to \u00a0\u00a04966eV. \u00a0\u00a0\u00a0Samples \u00a0\u00a0were \u00a0\u00a0milled \u00a0\u00a0for \u00a0\u00a01 \u00a0\u00a0minute, \u00a0\u00a05", "font": "Liberation Serif", "fontStyle": "italic", "fontSize": 20, "color": "black", "align": "left", "baseline": "alphabetic"},
 "encoding": {"x": {"datum": 0.01568, "type": "quantitative", "scale": {"domain": [0, 1], "nice": false, "zero": false}, "axis": null},
  "y": {"datum": 0.92857, "type": "quantitative", "scale": {"domain": [0, 1], "nice": false, "zero": false, "reverse": true}, "axis": null}}},
{"data": {"name": "one"}, "mark": {"type": "text", "text": "minutes, 25 minutes and 125 minutes.", "font": "Liberation Serif", "fontStyle": "italic", "fontSize": 20, "color": "black", "align": "left", "baseline": "alphabetic"},
 "encoding": {"x": {"datum": 0.01568, "type": "quantitative", "scale": {"domain": [0, 1], "nice": false, "zero": false}, "axis": null},
  "y": {"datum": 0.98041, "type": "quantitative", "scale": {"domain": [0, 1], "nice": false, "zero": false, "reverse": true}, "axis": null}}},
{"data": {"name": "one"}, "mark": {"type": "text", "text": "Figure 2.", "font": "Liberation Serif", "fontStyle": "italic", "fontWeight": "bold", "fontSize": 20, "color": "black", "align": "left", "baseline": "alphabetic"},
 "encoding": {"x": {"datum": 0.56185, "type": "quantitative", "scale": {"domain": [0, 1], "nice": false, "zero": false}, "axis": null},
  "y": {"datum": 0.82488, "type": "quantitative", "scale": {"domain": [0, 1], "nice": false, "zero": false, "reverse": true}, "axis": null}}},
{"data": {"name": "one"}, "mark": {"type": "text", "text": "XANES \u00a0\u00a0spectra \u00a0\u00a0of \u00a0standards \u00a0\u00a0TiAl\u2083 \u00a0\u00a0(Ti\u2070), \u00a0TiN", "font": "Liberation Serif, DejaVu Serif", "fontStyle": "italic", "fontSize": 20, "color": "black", "align": "left", "baseline": "alphabetic"},
 "encoding": {"x": {"datum": 0.64434, "type": "quantitative", "scale": {"domain": [0, 1], "nice": false, "zero": false}, "axis": null},
  "y": {"datum": 0.82488, "type": "quantitative", "scale": {"domain": [0, 1], "nice": false, "zero": false, "reverse": true}, "axis": null}}},
{"data": {"name": "one"}, "mark": {"type": "text", "text": "(Ti\u00b3\u207a) \u00a0\u00a0and \u00a0\u00a0TiO\u2082 \u00a0\u00a0\u00a0(Ti\u2074\u207a) \u00a0\u00a0overlay \u00a0\u00a0spectra \u00a0\u00a0\u00a0collected \u00a0\u00a0from", "font": "Liberation Serif, DejaVu Serif", "fontStyle": "italic", "fontSize": 20, "color": "black", "align": "left", "baseline": "alphabetic"},
 "encoding": {"x": {"datum": 0.56185, "type": "quantitative", "scale": {"domain": [0, 1], "nice": false, "zero": false}, "axis": null},
  "y": {"datum": 0.87673, "type": "quantitative", "scale": {"domain": [0, 1], "nice": false, "zero": false, "reverse": true}, "axis": null}}},
{"data": {"name": "one"}, "mark": {"type": "text", "text": "samples.", "font": "Liberation Serif", "fontStyle": "italic", "fontSize": 20, "color": "black", "align": "left", "baseline": "alphabetic"},
 "encoding": {"x": {"datum": 0.56185, "type": "quantitative", "scale": {"domain": [0, 1], "nice": false, "zero": false}, "axis": null},
  "y": {"datum": 0.92857, "type": "quantitative", "scale": {"domain": [0, 1], "nice": false, "zero": false, "reverse": true}, "axis": null}}}
]
}
